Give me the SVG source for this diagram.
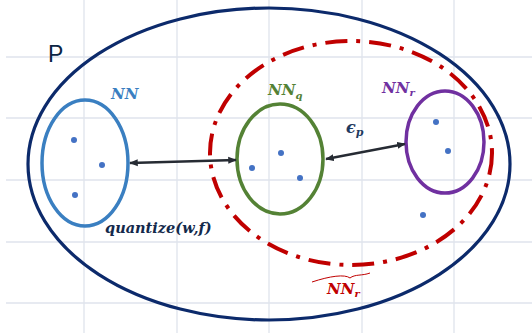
<svg xmlns="http://www.w3.org/2000/svg" width="532" height="333" viewBox="0 0 532 333">
<defs>
<marker id="ah" viewBox="0 0 10 10" refX="9" refY="5" markerWidth="3.6" markerHeight="3.6" orient="auto-start-reverse" markerUnits="strokeWidth">
<path d="M0,1 L10,5 L0,9 Z" fill="#262b33"/>
</marker>
<style>
.grid{stroke:#dfe3ec;stroke-width:1.3}
.dot{fill:#4472c4}
.math{font-family:"DejaVu Serif","Liberation Serif",serif;font-style:italic;font-weight:bold}
.arr{stroke:#262b33;stroke-width:2.4;fill:none;marker-start:url(#ah);marker-end:url(#ah)}
</style>
</defs>
<rect width="532" height="333" fill="#ffffff"/>
<g id="grid">
<line class="grid" x1="6" y1="57" x2="532" y2="57"/>
<line class="grid" x1="6" y1="118" x2="532" y2="118"/>
<line class="grid" x1="6" y1="180" x2="532" y2="180"/>
<line class="grid" x1="6" y1="242" x2="532" y2="242"/>
<line class="grid" x1="6" y1="303" x2="532" y2="303"/>
<line class="grid" x1="84" y1="0" x2="84" y2="333"/>
<line class="grid" x1="177" y1="0" x2="177" y2="333"/>
<line class="grid" x1="269" y1="0" x2="269" y2="333"/>
<line class="grid" x1="362" y1="0" x2="362" y2="333"/>
<line class="grid" x1="454" y1="0" x2="454" y2="333"/>
</g>
<g id="P">
<ellipse cx="269" cy="164" rx="241" ry="156" fill="none" stroke="#0c2a6b" stroke-width="3.2"/>
<text x="48" y="62" font-family="Liberation Sans,Arial,sans-serif" font-size="23" fill="#0b2544">P</text>
</g>
<g id="NNr-tilde">
<ellipse cx="351" cy="153" rx="141" ry="112" fill="none" stroke="#c00000" stroke-width="4" stroke-dasharray="22 9 4 9"/>
<path d="M312,282 C330,276 345,274 350,278 C355,274 362,276 370,273" fill="none" stroke="#c00000" stroke-width="1"/>
<text class="math" x="327" y="294" font-size="15" fill="#c00000" font-weight="normal">NN<tspan font-size="10" dy="3">r</tspan></text>
</g>
<g id="NN">
<ellipse cx="85" cy="163" rx="43" ry="63" fill="none" stroke="#3a7fc1" stroke-width="3.5"/>
<circle class="dot" cx="74" cy="140" r="3"/>
<circle class="dot" cx="102" cy="165" r="3"/>
<circle class="dot" cx="75" cy="195" r="3"/>
<text class="math" x="111" y="99" font-size="15" fill="#3a7fc1">NN</text>
</g>
<g id="NNq">
<ellipse cx="280" cy="159" rx="43" ry="55" fill="none" stroke="#548235" stroke-width="3.5"/>
<circle class="dot" cx="281" cy="153" r="3"/>
<circle class="dot" cx="252" cy="168" r="3"/>
<circle class="dot" cx="300" cy="178" r="3"/>
<text class="math" x="268" y="95" font-size="15" fill="#548235">NN<tspan font-size="10" dy="4">q</tspan></text>
</g>
<g id="NNr">
<ellipse cx="445" cy="142" rx="39" ry="51" fill="none" stroke="#7030a0" stroke-width="3.5"/>
<circle class="dot" cx="436" cy="122" r="3"/>
<circle class="dot" cx="448" cy="151" r="3"/>
<text class="math" x="382" y="93" font-size="15" fill="#7030a0">NN<tspan font-size="10" dy="3">r</tspan></text>
</g>
<g id="loose">
<circle class="dot" cx="423" cy="215" r="3"/>
</g>
<g id="connectors">
<line class="arr" x1="130" y1="163" x2="236" y2="160"/>
<line class="arr" x1="326" y1="159" x2="405" y2="144"/>
<text class="math" x="346" y="133" font-size="16" fill="#1f3a5f">ϵ<tspan font-size="11" dy="3">p</tspan></text>
<text class="math" x="105" y="233" font-size="14.5" fill="#13294b">quantize(w,f)</text>
</g>
</svg>
